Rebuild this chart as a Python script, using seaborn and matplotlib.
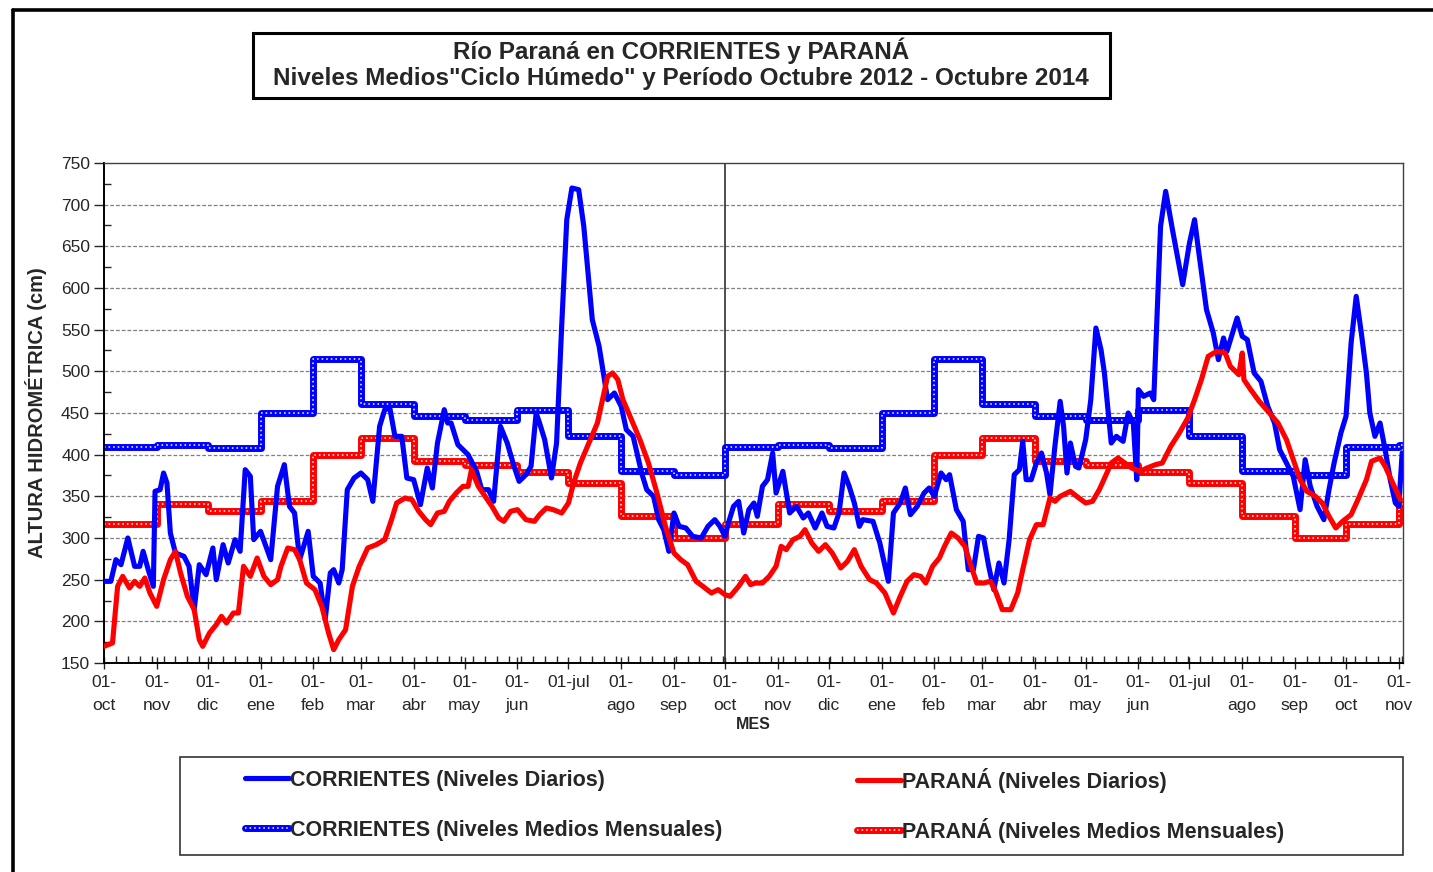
"""
Río Paraná en Corrientes y Paraná: niveles diarios y medios mensuales
(ciclo húmedo), octubre 2012 - octubre 2014.
"""
import pandas as pd
import seaborn as sns
import matplotlib.pyplot as plt
from matplotlib.lines import Line2D
from matplotlib.patches import Rectangle
from matplotlib.legend_handler import HandlerTuple

INICIO = pd.Timestamp('2012-10-01')
FIN_EJE = 763.5  # dias desde INICIO

# Niveles diarios (dia desde 01-oct-2012, cm)
COR_DIA = [0, 4, 7, 10, 14, 18, 21, 23, 26, 29, 30, 33, 35, 37, 39, 42, 47, 50, 53, 56,
           60, 64, 66, 70, 73, 77, 80, 83, 86, 88, 92, 98, 102, 106, 109, 112, 115, 120, 123, 127,
           130, 133, 135, 138, 140, 143, 147, 151, 155, 158, 162, 165, 168, 171, 175, 178, 182, 186, 190, 193,
           196, 200, 202, 204, 208, 214, 219, 222, 226, 229, 233, 237, 241, 244, 248, 251, 254, 256, 259, 263,
           266, 269, 272, 275, 279, 282, 287, 291, 296, 300, 304, 307, 311, 316, 319, 323, 326, 329, 332, 335,
           338, 342, 346, 351, 355, 359, 362, 365, 367, 370, 373, 376, 379, 382, 384, 387, 390, 393, 395, 399,
           403, 407, 411, 414, 418, 422, 425, 429, 432, 435, 438, 441, 444, 446, 452, 456, 461, 464, 468, 471,
           474, 478, 482, 485, 488, 492, 495, 497, 501, 505, 508, 511, 514, 517, 520, 523, 526, 529, 532, 535,
           538, 540, 542, 545, 548, 551, 554, 556, 559, 562, 564, 566, 568, 571, 573, 577, 580, 583, 586, 588,
           592, 595, 599, 602, 605, 607, 608, 611, 615, 617, 621, 624, 628, 634, 638, 641, 643, 648, 652, 655,
           658, 660, 666, 669, 672, 676, 680, 684, 688, 691, 694, 699, 703, 706, 709, 713, 717, 720, 723, 727,
           730, 733, 736, 739, 742, 744, 747, 750, 753, 756, 759, 761, 763]
COR_NIVEL = [248, 248, 274, 268, 300, 266, 266, 284, 262, 242, 356, 358, 378, 366, 306, 282, 278, 266, 214, 268,
             256, 288, 250, 292, 270, 298, 284, 382, 374, 298, 308, 274, 362, 388, 338, 330, 274, 308, 254, 246,
             202, 258, 262, 246, 262, 358, 372, 378, 370, 344, 434, 454, 456, 422, 422, 372, 370, 340, 384, 360,
             414, 454, 438, 438, 412, 400, 380, 358, 358, 344, 434, 414, 386, 368, 376, 386, 450, 438, 418, 372,
             414, 554, 682, 720, 718, 674, 562, 530, 466, 474, 458, 430, 422, 378, 358, 350, 322, 310, 284, 330,
             314, 312, 302, 300, 314, 322, 314, 302, 318, 338, 344, 306, 334, 342, 326, 362, 370, 402, 354, 380,
             330, 338, 324, 330, 312, 330, 314, 312, 330, 378, 362, 342, 314, 322, 320, 294, 248, 330, 342, 360,
             328, 338, 354, 360, 350, 378, 370, 376, 334, 320, 262, 262, 302, 300, 266, 238, 270, 246, 298, 376,
             382, 416, 370, 370, 390, 402, 378, 352, 412, 464, 434, 378, 414, 386, 384, 418, 466, 552, 526, 498,
             414, 422, 416, 450, 438, 370, 478, 470, 474, 466, 674, 716, 670, 604, 654, 682, 650, 574, 546, 514,
             540, 524, 564, 542, 538, 498, 488, 458, 438, 406, 394, 374, 334, 394, 362, 338, 322, 358, 390, 426,
             446, 534, 590, 546, 498, 450, 422, 438, 406, 370, 342, 338, 402]

PAR_DIA = [0, 5, 8, 11, 15, 18, 21, 24, 27, 31, 35, 39, 42, 45, 49, 53, 56, 58, 62, 66,
           69, 72, 76, 79, 82, 86, 90, 94, 98, 102, 104, 108, 112, 115, 119, 124, 128, 132, 135, 138,
           142, 146, 150, 155, 160, 165, 169, 172, 177, 181, 185, 189, 192, 196, 200, 203, 207, 211, 214, 216,
           220, 224, 228, 232, 235, 239, 243, 248, 253, 256, 260, 264, 269, 273, 276, 280, 285, 290, 293, 296,
           299, 302, 305, 310, 315, 320, 325, 330, 335, 339, 343, 348, 352, 357, 361, 365, 368, 373, 377, 380,
           383, 387, 391, 395, 398, 401, 405, 409, 412, 416, 420, 424, 428, 433, 437, 441, 445, 450, 454, 459,
           464, 468, 472, 476, 480, 483, 487, 491, 494, 498, 502, 506, 509, 513, 517, 521, 524, 528, 533, 537,
           540, 544, 548, 552, 556, 559, 562, 568, 573, 577, 581, 585, 589, 592, 596, 600, 604, 609, 613, 618,
           622, 627, 632, 637, 641, 645, 649, 654, 659, 662, 667, 669, 670, 674, 679, 685, 690, 695, 699, 703,
           707, 712, 716, 720, 724, 728, 733, 737, 742, 745, 750, 753, 757, 762]
PAR_NIVEL = [170, 174, 242, 254, 240, 248, 242, 252, 234, 218, 250, 274, 284, 258, 230, 214, 178, 170, 186, 196,
             206, 198, 210, 210, 266, 254, 276, 254, 244, 250, 266, 288, 286, 274, 246, 238, 218, 186, 166, 178,
             190, 242, 266, 288, 292, 298, 322, 342, 348, 346, 332, 322, 316, 330, 332, 344, 354, 362, 362, 382,
             362, 350, 338, 324, 320, 332, 334, 322, 320, 328, 336, 334, 330, 342, 366, 390, 414, 438, 466, 494,
             498, 490, 466, 442, 418, 390, 354, 314, 282, 274, 268, 248, 242, 234, 238, 232, 230, 242, 254, 244,
             246, 246, 254, 266, 290, 286, 298, 302, 310, 294, 284, 292, 282, 264, 272, 286, 266, 250, 246, 234,
             210, 230, 248, 256, 254, 246, 266, 276, 290, 306, 300, 290, 270, 246, 246, 248, 236, 214, 214, 234,
             262, 298, 316, 316, 348, 344, 350, 356, 348, 342, 344, 358, 376, 390, 396, 390, 384, 380, 384, 388,
             390, 410, 426, 444, 466, 490, 518, 524, 522, 506, 496, 522, 490, 478, 464, 450, 438, 418, 394, 370,
             356, 350, 342, 326, 312, 320, 328, 346, 370, 392, 396, 386, 368, 346]

# Niveles medios mensuales del ciclo humedo (oct ... sep)
MESES = ['oct', 'nov', 'dic', 'ene', 'feb', 'mar', 'abr', 'may', 'jun', 'jul', 'ago', 'sep']
COR_MEDIO = [409, 411, 408, 450, 515, 461, 446, 442, 453, 422, 380, 375]
PAR_MEDIO = [317, 341, 332, 344, 400, 420, 392, 388, 379, 366, 326, 300]


def a_fecha(dias):
    return INICIO + pd.to_timedelta(dias, unit='D')


def serie_mensual(medios, inicios_mes, fin):
    vals = (medios * 3)[:len(inicios_mes)]
    fechas = list(inicios_mes) + [fin]
    return pd.DataFrame({'fecha': fechas, 'nivel': vals + [vals[-1]]})


def main():
    sns.set_style('white')
    plt.rcParams['font.family'] = ['Liberation Sans', 'DejaVu Sans']

    fin = a_fecha(FIN_EJE)
    inicios_mes = pd.date_range('2012-10-01', '2014-11-01', freq='MS')

    cor = pd.DataFrame({'fecha': a_fecha(COR_DIA), 'nivel': COR_NIVEL})
    par = pd.DataFrame({'fecha': a_fecha(PAR_DIA), 'nivel': PAR_NIVEL})
    cor_m = serie_mensual(COR_MEDIO, inicios_mes, fin)
    par_m = serie_mensual(PAR_MEDIO, inicios_mes, fin)

    fig = plt.figure(figsize=(14.33, 8.72), dpi=100)
    ax = fig.add_axes([104 / 1433, 1 - 663 / 872, 1299 / 1433, 500 / 872])

    # grilla horizontal
    for v in range(200, 750, 50):
        ax.axhline(v, color='#7f7f7f', lw=0.9, linestyle=(0, (3, 1.6)), zorder=0)

    # medios mensuales: linea gruesa con puntos blancos
    for df, color in [(cor_m, 'blue'), (par_m, 'red')]:
        sns.lineplot(data=df, x='fecha', y='nivel', ax=ax, color=color, lw=5.0,
                     drawstyle='steps-post', estimator=None, sort=False, zorder=2)
        sns.lineplot(data=df, x='fecha', y='nivel', ax=ax, color='white', lw=1.1,
                     linestyle=(0, (1, 2)), drawstyle='steps-post', estimator=None,
                     sort=False, zorder=2.1)

    # niveles diarios
    sns.lineplot(data=cor, x='fecha', y='nivel', ax=ax, color='blue', lw=3.7,
                 estimator=None, sort=False, solid_joinstyle='round', zorder=3)
    sns.lineplot(data=par, x='fecha', y='nivel', ax=ax, color='red', lw=3.7,
                 estimator=None, sort=False, solid_joinstyle='round', zorder=4)

    ax.axvline(pd.Timestamp('2013-10-01'), color='#303030', lw=1.2, zorder=1)

    ax.set_xlim(INICIO, fin)
    ax.set_ylim(150, 750)
    ax.set_yticks(range(150, 751, 50))
    ax.set_yticks(range(175, 750, 50), minor=True)
    ax.set_xticks(inicios_mes)
    etiquetas = ['01-jul' if m == 'jul' else '01-\n' + m for m in (MESES * 3)[:len(inicios_mes)]]
    ax.set_xticklabels(etiquetas)
    ax.set_xticks(pd.date_range(INICIO, fin, freq='7D'), minor=True)
    for t in ax.get_xticklabels():
        t.set_linespacing(1.65)

    ax.tick_params(axis='y', which='major', direction='out', length=7, width=1,
                   labelsize=12.5, pad=3, left=True)
    ax.tick_params(axis='y', which='minor', direction='in', length=5, width=1, left=True)
    ax.tick_params(axis='x', which='major', direction='inout', length=9, width=1,
                   labelsize=12.5, pad=4, bottom=True)
    ax.tick_params(axis='x', which='minor', direction='in', length=5, width=1, bottom=True)

    for lado in ['left', 'bottom']:
        ax.spines[lado].set_color('black')
        ax.spines[lado].set_linewidth(1.4)
    for lado in ['top', 'right']:
        ax.spines[lado].set_color('#404040')
        ax.spines[lado].set_linewidth(1.0)

    ax.set_xlabel('MES', fontsize=11.5, fontweight='bold', labelpad=3)
    ax.set_ylabel('ALTURA HIDROMÉTRICA (cm)', fontsize=14.5, fontweight='bold', labelpad=10)

    # titulo en recuadro
    fig.add_artist(Rectangle((253 / 1433, 1 - 98 / 872), 857 / 1433, 65 / 872,
                             transform=fig.transFigure, fill=False, ec='black', lw=2.2))
    fig.text(681 / 1433, 1 - 51 / 872, 'Río Paraná en CORRIENTES y PARANÁ',
             ha='center', va='center', fontsize=17.5, fontweight='bold')
    fig.text(681 / 1433, 1 - 79 / 872,
             'Niveles Medios"Ciclo Húmedo" y Período Octubre 2012 - Octubre 2014',
             ha='center', va='center', fontsize=17.5, fontweight='bold')

    # marco exterior
    fig.add_artist(Line2D([13 / 1433, 1], [1 - 10 / 872] * 2, transform=fig.transFigure,
                          color='black', lw=2.6))
    fig.add_artist(Line2D([13 / 1433] * 2, [0, 1 - 10 / 872], transform=fig.transFigure,
                          color='black', lw=2.6))

    # leyenda
    fig.add_artist(Rectangle((180 / 1433, 1 - 855 / 872), 1223 / 1433, 98 / 872,
                             transform=fig.transFigure, fill=False, ec='#333333', lw=1.2))
    h_cor = Line2D([], [], color='blue', lw=3.7)
    h_par = Line2D([], [], color='red', lw=3.7)
    h_cor_m = (Line2D([], [], color='blue', lw=5.0),
               Line2D([], [], color='white', lw=1.1, linestyle=(0, (1, 2))))
    h_par_m = (Line2D([], [], color='red', lw=5.0),
               Line2D([], [], color='white', lw=1.1, linestyle=(0, (1, 2))))
    entradas = [
        (h_cor, 'CORRIENTES (Niveles Diarios)', 245, 780),
        (h_par, 'PARANÁ (Niveles Diarios)', 857, 780),
        (h_cor_m, 'CORRIENTES (Niveles Medios Mensuales)', 245, 830),
        (h_par_m, 'PARANÁ (Niveles Medios Mensuales)', 857, 830),
    ]
    for h, txt, px, py in entradas:
        fig.legend([h], [txt], loc='center left', bbox_to_anchor=(px / 1433, 1 - py / 872),
                   frameon=False, borderpad=0, borderaxespad=0, handlelength=2.05,
                   handletextpad=0.03, prop={'weight': 'bold', 'size': 15.5},
                   handler_map={tuple: HandlerTuple(ndivide=1)})

    fig.savefig('out.png', dpi=100)


if __name__ == "__main__":
    main()
